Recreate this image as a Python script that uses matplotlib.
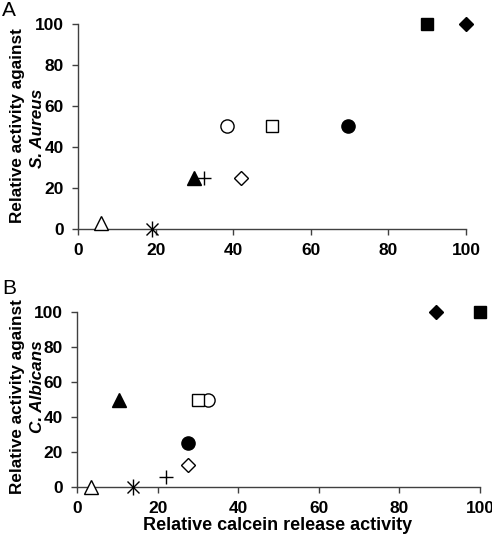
import matplotlib
matplotlib.use('Agg')
import matplotlib.pyplot as plt

plt.rcParams['font.family'] = ['Liberation Sans', 'DejaVu Sans']

# marker order: open triangle, asterisk, filled triangle, plus, open circle,
# open diamond, open square, filled circle, filled square, filled diamond
markers = ['^', '*', '^', '+', 'o', 'D', 's', 'o', 's', 'D']
filled = [False, False, True, False, False, False, False, True, True, True]

xa = [6, 19, 30, 32.5, 38.5, 42, 50, 69.5, 90, 100]
ya = [3, 0, 25, 25, 50, 25, 50, 50, 100, 100]

xb = [3.5, 14, 10.5, 22, 32.5, 27.5, 30, 27.5, 100, 89]
yb = [0, 0, 50, 6, 50, 12.5, 50, 25, 100, 100]

xticks = [0, 20, 40, 60, 80, 100]
yticks = [0, 20, 40, 60, 80, 100]

fig = plt.figure(figsize=(4.92, 5.4), dpi=100)
fig.patch.set_facecolor('white')

axA = fig.add_axes([0.1585, 0.576, 0.7885, 0.3796])
axB = fig.add_axes([0.1565, 0.0981, 0.819, 0.3241])

def draw(ax, xs, ys):
    for m, f, x, y in zip(markers, filled, xs, ys):
        fc = 'black' if f else 'white'
        size = {'^': 10, 'o': 9.5, 's': 9, 'D': 7, '+': 10}.get(m, 10)
        if m == '*':
            ax.plot(x, y, marker='x', ms=9, mew=1.0, color='black', clip_on=False, zorder=5)
            ax.plot(x, y, marker='|', ms=12, mew=1.0, color='black', clip_on=False, zorder=5)
        elif m == '+':
            ax.plot(x, y, marker='+', ms=size, mew=1.0, color='black', clip_on=False, zorder=5)
        else:
            ax.plot(x, y, marker=m, ms=size, mfc=fc, mec='black', mew=1.0,
                    linestyle='none', clip_on=False, zorder=5)
    ax.set_xlim(0, 100)
    ax.set_ylim(0, 100)
    ax.set_xticks(xticks)
    ax.set_yticks(yticks)
    for s in ['top', 'right']:
        ax.spines[s].set_visible(False)
    for s in ['left', 'bottom']:
        ax.spines[s].set_color('#404040')
        ax.spines[s].set_linewidth(1.0)
    ax.tick_params(direction='out', length=4, width=1, color='#404040',
                   labelsize=12.5, pad=6)
    for lbl in ax.get_xticklabels() + ax.get_yticklabels():
        lbl.set_fontweight('bold')

draw(axA, xa, ya)
draw(axB, xb, yb)

fig.text(18 / 492, 1 - 126 / 540, 'Relative activity against', rotation=90,
         ha='center', va='center', fontsize=12.3, fontweight='bold')
fig.text(38 / 492, 1 - 128 / 540, 'S. Aureus', rotation=90, ha='center',
         va='center', fontsize=12.3, fontweight='bold', style='italic')

fig.text(18 / 492, 1 - 397 / 540, 'Relative activity against', rotation=90,
         ha='center', va='center', fontsize=12.3, fontweight='bold')
fig.text(38 / 492, 1 - 387 / 540, 'C. Albicans', rotation=90, ha='center',
         va='center', fontsize=12.3, fontweight='bold', style='italic')

fig.text(278 / 492, 1 - 526 / 540, 'Relative calcein release activity',
         ha='center', va='center', fontsize=13, fontweight='bold')

fig.text(2 / 492, 1 - 10 / 540, 'A', ha='left', va='center', fontsize=15)
fig.text(2 / 492, 1 - 288 / 540, 'B', ha='left', va='center', fontsize=15)

fig.savefig('out.png', dpi=100)
